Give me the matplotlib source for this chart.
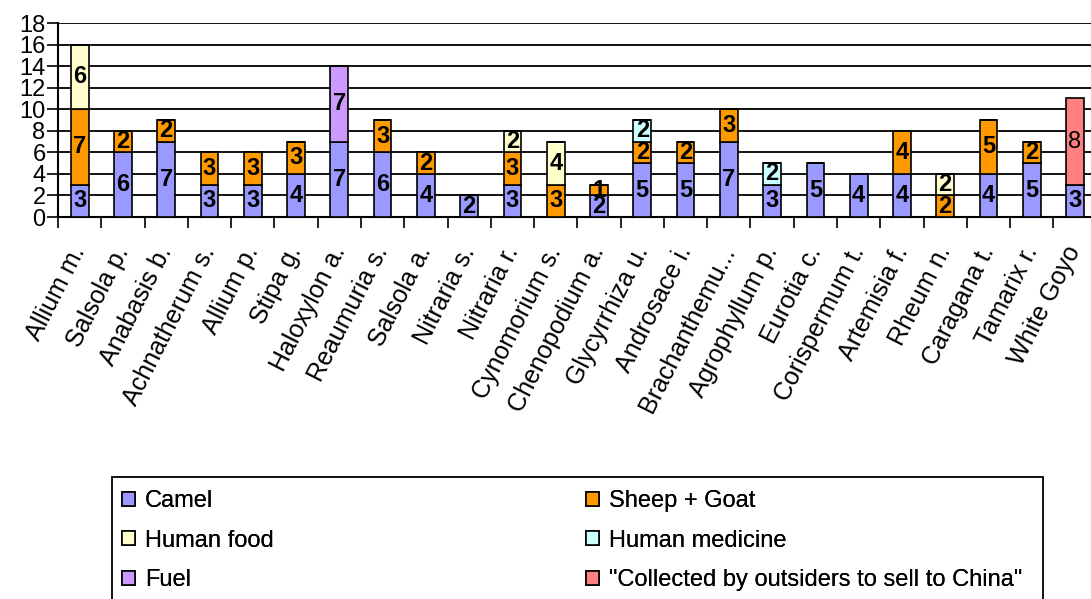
import matplotlib.pyplot as plt
from matplotlib.patches import Rectangle
import numpy as np

plt.rcParams["font.family"] = ["Liberation Sans", "DejaVu Sans"]

species = ["Allium m.", "Salsola p.", "Anabasis b.", "Achnatherum s.", "Allium p.",
           "Stipa g.", "Haloxylon a.", "Reaumuria s.", "Salsola a.", "Nitraria s.",
           "Nitraria r.", "Cynomorium s.", "Chenopodium a.", "Glycyrrhiza u.",
           "Androsace i.", "Brachanthemu...", "Agrophyllum p.", "Eurotia c.",
           "Corispermum t.", "Artemisia f.", "Rheum n.", "Caragana t.", "Tamarix r.",
           "White Goyo"]

camel = [3, 6, 7, 3, 3, 4, 7, 6, 4, 2, 3, 0, 2, 5, 5, 7, 3, 5, 4, 4, 0, 4, 5, 3]
sheep_goat = [7, 2, 2, 3, 3, 3, 0, 3, 2, 0, 3, 3, 1, 2, 2, 3, 0, 0, 0, 4, 2, 5, 2, 0]
human_food = [6, 0, 0, 0, 0, 0, 0, 0, 0, 0, 2, 4, 0, 0, 0, 0, 0, 0, 0, 0, 2, 0, 0, 0]
human_medicine = [0, 0, 0, 0, 0, 0, 0, 0, 0, 0, 0, 0, 0, 2, 0, 0, 2, 0, 0, 0, 0, 0, 0, 0]
fuel = [0, 0, 0, 0, 0, 0, 7, 0, 0, 0, 0, 0, 0, 0, 0, 0, 0, 0, 0, 0, 0, 0, 0, 0]
china = [0, 0, 0, 0, 0, 0, 0, 0, 0, 0, 0, 0, 0, 0, 0, 0, 0, 0, 0, 0, 0, 0, 0, 8]

series = [
    ("Camel", camel, "#9999FF"),
    ("Sheep + Goat", sheep_goat, "#FF9900"),
    ("Human food", human_food, "#FFFFCC"),
    ("Human medicine", human_medicine, "#CCFFFF"),
    ("Fuel", fuel, "#CC99FF"),
    ('"Collected by outsiders to sell to China"', china, "#FF8080"),
]

fig = plt.figure(figsize=(10.91, 5.99), dpi=100)
ax = fig.add_axes([0.0532, 0.6377, 0.952, 0.3239])

x = np.arange(len(species))
bottom = np.zeros(len(species))
for name, vals, color in series:
    vals = np.array(vals, dtype=float)
    ax.bar(x, vals, 0.41, bottom=bottom, color=color, edgecolor="black",
           linewidth=1.2, label=name, zorder=3)
    for xi, v, b in zip(x, vals, bottom):
        if v > 0:
            weight = "normal" if name.startswith('"') else "bold"
            ax.text(xi, b + v / 2, f"{int(v)}", ha="center", va="center",
                    fontsize=17, fontweight=weight, zorder=4)
    bottom += vals

ax.set_xlim(-0.5, len(species) - 0.5)
ax.set_ylim(0, 18)
ax.set_yticks(range(0, 19, 2))
ax.tick_params(axis="y", labelsize=17, length=8, width=1.2, pad=1)
ax.set_xticks(x)
ax.set_xticklabels(species, rotation=63, ha="right", va="center",
                   rotation_mode="anchor", fontsize=18)
ax.tick_params(axis="x", which="major", length=0, pad=22)
ax.set_xticks(np.arange(-0.5, len(species), 1), minor=True)
ax.tick_params(axis="x", which="minor", length=8, width=1.2)

ax.grid(True, axis="y", color="black", linewidth=1.3, zorder=0)
for s in ["top", "right"]:
    ax.spines[s].set_visible(False)
for s in ["left", "bottom"]:
    ax.spines[s].set_linewidth(1.5)

# legend: two columns placed by hand, frame cut off at the bottom like the original
handles, labels = ax.get_legend_handles_labels()
W, H = 1091, 599
for col, idx in enumerate([[0, 2, 4], [1, 3, 5]]):
    left = [122, 586][col]
    leg = fig.legend([handles[i] for i in idx], [labels[i] for i in idx],
                     loc="upper left", bbox_to_anchor=(left / W, 1 - 490 / H),
                     fontsize=17, frameon=False, handlelength=0.55,
                     handleheight=0.55, handletextpad=0.42, labelspacing=0.75,
                     borderaxespad=0, borderpad=0)
    fig.add_artist(leg)
fig.patches.append(Rectangle((112 / W, -0.02), (1043 - 112) / W, (599 - 477) / H + 0.02,
                             transform=fig.transFigure, fill=False,
                             edgecolor="black", linewidth=1.3))

plt.savefig("out.png", dpi=100)
